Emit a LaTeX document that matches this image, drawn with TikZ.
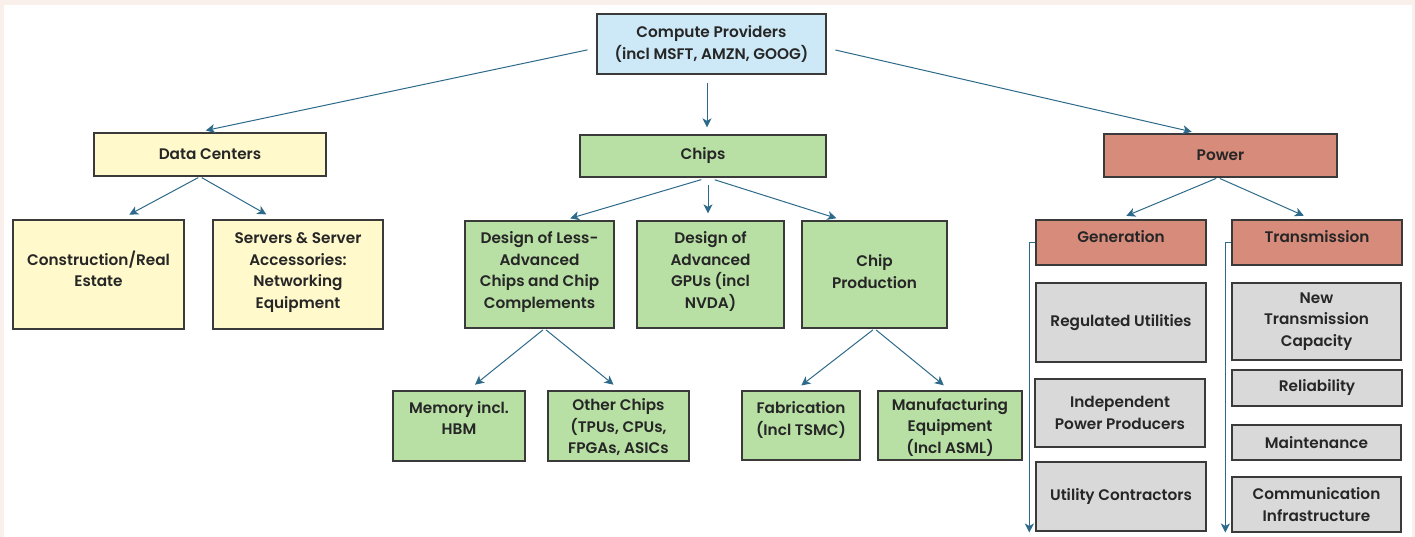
\documentclass[tikz,border=0pt]{standalone}
\usepackage{fontspec}
\setmainfont{Poppins}[BoldFont={Poppins SemiBold}]
\usetikzlibrary{arrows.meta, positioning}

\definecolor{framepink}{HTML}{FAF0EB}
\definecolor{boxline}{HTML}{3A3A3A}
\definecolor{arrowblue}{HTML}{2D6A8A}
\definecolor{cpblue}{HTML}{CDE8F6}
\definecolor{dcyellow}{HTML}{FFF9CC}
\definecolor{chipgreen}{HTML}{B8E0A4}
\definecolor{powerred}{HTML}{D68B7B}
\definecolor{subgrey}{HTML}{D9D9D9}

\tikzset{
  box/.style={draw=boxline, line width=1.3pt, inner sep=2pt, align=center,
    font=\fontsize{15.3}{21.5}\selectfont\bfseries, text=black!85},
  cpbox/.style={box, fill=cpblue},
  dcbox/.style={box, fill=dcyellow},
  chipbox/.style={box, fill=chipgreen},
  powbox/.style={box, fill=powerred},
  greybox/.style={box, fill=subgrey},
  lift/.style={text depth=#1},
  arr/.style={draw=arrowblue, line width=1pt, -{Stealth[length=9pt, width=9pt, inset=2.5pt]}},
}

\begin{document}
\begin{tikzpicture}[x=1pt, y=-1pt]

% page frame
\fill[framepink] (0,0) rectangle (1415,537);
\fill[white] (4,5) rectangle (1412,537);
\useasboundingbox (0,0) rectangle (1415,537);

% top level
\node[cpbox, minimum width=229, minimum height=60] (cp) at (711.5,44) {Compute Providers\\(incl MSFT, AMZN, GOOG)};

% second level
\node[dcbox, minimum width=232, minimum height=43] (dc) at (210,154.5) {Data Centers};
\node[chipbox, minimum width=246, minimum height=42] (chips) at (703,156) {Chips};
\node[powbox, minimum width=233, minimum height=43] (pow) at (1220.5,155.5) {Power};

% data centers
\node[dcbox, lift=11pt, minimum width=171, minimum height=109] (cons) at (98.5,274.5) {Construction/Real\\Estate};
\node[dcbox, lift=7.5pt, minimum width=170, minimum height=109] (serv) at (298,274.5) {Servers \& Server\\Accessories:\\Networking\\Equipment};

% chips
\node[chipbox, lift=8.5pt, minimum width=149, minimum height=107] (less) at (539.5,274.5) {Design of Less-\\Advanced\\Chips and Chip\\Complements};
\node[chipbox, lift=8.5pt, minimum width=147, minimum height=107] (adv) at (710.5,274.5) {Design of\\Advanced\\GPUs (incl\\NVDA)};
\node[chipbox, lift=6pt, minimum width=145, minimum height=107] (prod) at (874.5,274.5) {Chip\\Production};
\node[chipbox, lift=16pt, minimum width=132, minimum height=70] (mem) at (459,426) {Memory incl.\\HBM};
\node[chipbox, lift=-9pt, minimum width=141, minimum height=70] (oth) at (618.5,426) {Other Chips\\(TPUs, CPUs,\\FPGAs, ASICs};
\node[chipbox, lift=14pt, minimum width=118, minimum height=69] (fab) at (801,425.5) {Fabrication\\(Incl TSMC)};
\node[chipbox, lift=-14pt, minimum width=144, minimum height=69] (man) at (950,425.5) {Manufacturing\\Equipment\\(Incl ASML)};

% power
\node[powbox, lift=11pt, minimum width=170, minimum height=45] (gen) at (1121,242.5) {Generation};
\node[powbox, lift=11pt, minimum width=170, minimum height=45] (trans) at (1317,242.5) {Transmission};
\node[greybox, minimum width=170, minimum height=79] (reg) at (1121,322.5) {Regulated Utilities};
\node[greybox, minimum width=170, minimum height=68] (ipp) at (1120,413) {Independent\\Power Producers};
\node[greybox, minimum width=170, minimum height=69] (uc) at (1121,496.5) {Utility Contractors};
\node[greybox, minimum width=169, minimum height=77] (ntc) at (1316.5,321.5) {New\\Transmission\\Capacity};
\node[greybox, minimum width=170, minimum height=36] (rel) at (1317,388) {Reliability};
\node[greybox, minimum width=169, minimum height=35] (mnt) at (1316.5,442.5) {Maintenance};
\node[greybox, minimum width=169, minimum height=55] (com) at (1316.5,504.5) {Communication\\Infrastructure};

% arrows from the top
\draw[arr, shorten <=9pt, shorten >=9pt] ([yshift=-4]cp.west) -- ([xshift=-13]dc.north);
\draw[arr, shorten <=8pt, shorten >=7pt] ([xshift=-4.5]cp.south) -- ([xshift=4]chips.north);
\draw[arr, shorten <=9pt, shorten >=7pt] ([yshift=-4]cp.east) -- ([xshift=-22]pow.north);

% data centers arrows
\draw[arr, shorten <=2pt, shorten >=10pt] ([xshift=-10]dc.south) -- ([xshift=22]cons.north);
\draw[arr, shorten <=2pt, shorten >=10pt] ([xshift=-10]dc.south) -- ([xshift=-23]serv.north);

% chips arrows
\draw[arr, shorten <=7pt, shorten >=7pt] ([xshift=5]chips.south) -- ([xshift=24]less.north);
\draw[arr, shorten <=7pt, shorten >=7pt] ([xshift=5]chips.south) -- ([xshift=-2.5]adv.north);
\draw[arr, shorten <=7pt, shorten >=7pt] ([xshift=5]chips.south) -- ([xshift=-31.5]prod.north);
\draw[arr, shorten <=2pt, shorten >=9pt] ([xshift=5]less.south) -- ([xshift=9]mem.north);
\draw[arr, shorten <=2pt, shorten >=9pt] ([xshift=5]less.south) -- ([xshift=2]oth.north);
\draw[arr, shorten <=2pt, shorten >=8pt] (prod.south) -- ([xshift=-6]fab.north);
\draw[arr, shorten <=2pt, shorten >=8pt] (prod.south) -- (man.north);

% power arrows
\draw[arr, shorten <=2pt, shorten >=9pt] ([xshift=-2.5]pow.south) -- ([xshift=-3]gen.north);
\draw[arr, shorten <=2pt, shorten >=9pt] ([xshift=-2.5]pow.south) -- ([xshift=-5]trans.north);
\draw[arr] (gen.west) -- ++(-6,0) -- ++(0,290);
\draw[arr] (trans.west) -- ++(-6,0) -- ++(0,290);

\end{tikzpicture}
\end{document}
